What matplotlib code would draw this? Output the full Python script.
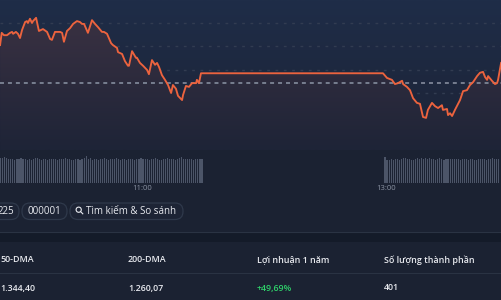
import numpy as np
import matplotlib.pyplot as plt
from matplotlib.patches import FancyBboxPatch, Circle, Rectangle
from matplotlib.colors import to_rgb

# intraday index, minutes since 9:30 open
t_am = [20.2, 21.0, 22.1, 23.6, 25.1, 26.1, 26.6, 28.0, 29.0, 30.0, 31.0, 32.5,
        33.4, 33.9, 34.9, 35.9, 36.4, 37.9, 39.3, 41.3, 43.3, 44.8, 45.7, 47.2,
        49.7, 50.7, 51.6, 53.1, 54.6, 56.1, 58.0, 59.5, 60.5, 61.5, 63.4, 65.4,
        66.9, 68.4, 70.3, 71.3, 72.8, 74.8, 75.7, 77.7, 78.2, 80.2, 81.6, 83.1,
        83.6, 85.1, 87.0, 87.5, 89.0, 90.5, 92.5, 93.4, 94.9, 96.4, 97.4, 98.4,
        99.8, 101.3, 102.8, 104.3, 105.2, 106.7, 107.7, 109.7, 110.2, 111.6,
        113.1, 114.6, 116.6, 117.0, 118.0, 119.0]
p_am = [3285.3, 3287.9, 3287.4, 3287.4, 3287.9, 3288.1, 3287.7, 3288.1, 3287.7,
        3286.8, 3288.5, 3290.2, 3290.4, 3290.0, 3290.9, 3290.0, 3290.4, 3291.1,
        3288.3, 3288.7, 3288.1, 3286.6, 3286.4, 3288.1, 3288.1, 3287.9, 3286.0,
        3288.3, 3288.9, 3289.8, 3290.4, 3290.2, 3289.8, 3289.8, 3287.9, 3290.6,
        3289.8, 3289.1, 3288.1, 3288.1, 3287.7, 3285.7, 3285.3, 3284.7, 3283.8,
        3283.4, 3281.9, 3280.9, 3280.9, 3284.0, 3282.6, 3282.6, 3281.5, 3280.9,
        3280.0, 3279.1, 3282.1, 3281.1, 3281.5, 3280.6, 3278.9, 3277.9, 3276.8,
        3275.1, 3276.8, 3276.0, 3274.5, 3273.6, 3274.7, 3276.6, 3276.4, 3277.2,
        3277.2, 3277.9, 3277.2, 3279.3]
t_pm = [208.5, 210.5, 212.9, 214.4, 215.9, 217.9, 218.4, 220.3, 221.8, 223.3,
        225.2, 226.7, 228.2, 229.7, 230.6, 232.6, 234.1, 235.6, 237.5, 238.0,
        240.0, 240.5, 241.5, 242.5, 243.9, 246.4, 247.9, 249.8, 251.3, 252.8,
        254.8, 256.2, 257.7, 258.7, 259.7, 260.2, 262.1, 263.6, 264.6, 265.1, 266.6]
p_pm = [3279.3, 3278.3, 3277.9, 3277.0, 3277.2, 3277.7, 3277.0, 3276.4, 3275.7,
        3274.0, 3273.0, 3272.8, 3270.0, 3269.8, 3271.5, 3273.0, 3272.3, 3271.9,
        3272.5, 3271.5, 3271.7, 3270.4, 3270.8, 3270.2, 3271.5, 3273.6, 3275.5,
        3275.7, 3276.8, 3277.4, 3278.7, 3279.4, 3279.6, 3278.5, 3277.9, 3278.7,
        3277.7, 3277.0, 3277.2, 3277.9, 3281.5]
prev_close = 3277.2
grid_levels = [3290, 3285, 3280, 3275, 3270, 3265]

# volume bars, one per minute
vol_am = [25, 25, 26, 25, 24, 24, 24, 23, 24, 24, 25, 24, 24, 23, 24, 23, 24, 25,
          25, 24, 23, 24, 24, 23, 24, 24, 24, 24, 23, 24, 24, 24, 25, 24, 24, 23,
          23, 24, 24, 23, 24, 25, 27, 24, 25, 23, 24, 24, 23, 24, 24, 25, 24, 23,
          24, 24, 24, 25, 24, 23, 24, 24, 23, 24, 24, 24, 23, 24, 24, 25, 24, 24,
          24, 23, 24, 24, 25, 24, 23, 23, 24, 24, 25, 24, 24, 24, 23, 24, 25, 26,
          24, 24, 24, 24, 24, 23, 24, 24, 24, 24]
vol_pm = [26, 23, 23, 24, 23, 24, 24, 23, 24, 25, 25, 24, 24, 23, 23, 24, 25, 24,
          25, 24, 25, 24, 25, 24, 24, 23, 24, 25, 24, 23, 24, 24, 24, 24, 24, 24,
          24, 23, 24, 24, 24, 23, 24, 24, 23, 23, 24, 24, 24, 24, 23, 24, 24, 25,
          24, 24, 24]
vol_am_t = [20.5 + i for i in range(len(vol_am))]
vol_pm_t = [209.5 + i for i in range(len(vol_pm))]

ticks = [90, 210]
tick_labels = ["11:00", "13:00"]
buttons = ["225", "000001", "Tìm kiếm & So sánh"]
stat_names = ["50-DMA", "200-DMA", "Lợi nhuận 1 năm", "Số lượng thành phần"]
stat_values = ["1.344,40", "1.260,07", "+49,69%", "401"]

plt.rcParams['font.family'] = ['Open Sans', 'DejaVu Sans']

BG = "#1b2232"
LINE = "#ec633e"
fig = plt.figure(figsize=(5.01, 3.0), dpi=100, facecolor=BG)

t = t_am + t_pm
p = p_am + p_pm
xlim = (20.16, 266.55)
ylim = (3262.97, 3294.89)

ax = fig.add_axes([0, 0.5, 1, 0.5])
ax.set_xlim(*xlim)
ax.set_ylim(*ylim)
ax.axis("off")

# background gradient
top, bot = np.array(to_rgb("#1f2d48")), np.array(to_rgb("#1c2336"))
g = np.linspace(0, 1, 100)[:, None]
bg = top * (1 - g)[:, :, None] + bot * g[:, :, None]
ax.imshow(bg, extent=[xlim[0], xlim[1], ylim[0], ylim[1]], aspect="auto", zorder=0)

for lv in grid_levels:
    ax.axhline(lv, color="#323c51", lw=1, ls=(0, (2, 4)), zorder=1)

# gradient fill under the line
poly = ax.fill_between(t, p, ylim[0], color="none", lw=0)
ftop, fbot = np.array(to_rgb("#3a3142")), np.array(to_rgb("#1e2437"))
fill = ftop * (1 - g)[:, :, None] + fbot * g[:, :, None]
im = ax.imshow(fill, extent=[xlim[0], xlim[1], ylim[0], 3291.5], aspect="auto", zorder=2)
im.set_clip_path(poly.get_paths()[0], transform=ax.transData)

ax.axhline(prev_close, color="#7d8596", lw=1.3, ls=(0, (2.2, 2.2)), zorder=3)
ax.plot(t, p, color=LINE, lw=1.35, zorder=4, solid_joinstyle="round")

# volume
vax = fig.add_axes([0, 1 - 183 / 300, 1, 28 / 300])
vax.set_xlim(*xlim)
vax.set_ylim(0, 28)
vax.axis("off")
vax.bar(vol_am_t, vol_am, width=0.55, color="#4c5568", lw=0)
vax.bar(vol_pm_t, vol_pm, width=0.55, color="#4c5568", lw=0)
for tk, lab in zip(ticks, tick_labels):
    vax.text(tk, -5.5, lab, ha="center", va="center", color="#8b93a3", fontsize=5.5)

# page overlay in pixel coordinates
ov = fig.add_axes([0, 0, 1, 1], zorder=5)
ov.set_xlim(0, 501)
ov.set_ylim(300, 0)
ov.axis("off")
ov.patch.set_alpha(0)

pills = [(-20, 19), (22, 67), (70, 183)]
for (x0, x1), lab in zip(pills, buttons):
    ov.add_patch(FancyBboxPatch((x0, 203), x1 - x0, 16.5,
                                boxstyle="round,pad=0,rounding_size=8",
                                fc="#1d2435", ec="#2f394b", lw=0.9))
ov.text(14, 211, buttons[0], ha="right", va="center", color="#e8eaef", fontsize=7)
ov.text(44.7, 211, buttons[1], ha="center", va="center", color="#e8eaef", fontsize=7)
ov.text(86, 211, buttons[2], ha="left", va="center", color="#e8eaef", fontsize=7)
ov.add_patch(Circle((78.7, 209.7), 2.6, fc="none", ec="#e8eaef", lw=0.8))
ov.plot([80.6, 82.8], [211.6, 213.8], color="#e8eaef", lw=0.8)

ov.add_patch(Rectangle((0, 232), 501, 10, fc="#141b29", ec="none"))
ov.plot([0, 501], [231.7, 231.7], color="#2a3343", lw=0.8)
ov.plot([0, 501], [273.3, 273.3], color="#2a3343", lw=0.8)

cols = [0, 128, 257, 384]
for x, name, val in zip(cols, stat_names, stat_values):
    ov.text(x, 260, name, ha="left", va="center", color="#e8eaef", fontsize=6.4,
            fontweight="semibold")
    ov.text(x, 288, val, ha="left", va="center", fontsize=6.4, fontweight="semibold",
            color="#2fd06a" if val.startswith("+") else "#e8eaef")

fig.savefig("out.png", dpi=100, facecolor=BG)
